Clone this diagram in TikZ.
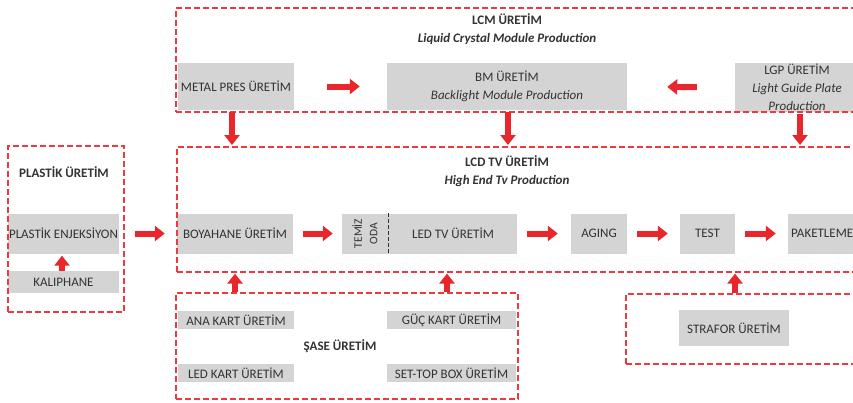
\documentclass[tikz,border=0pt]{standalone}
\usepackage{fontspec}
\setmainfont{Carlito}
\usetikzlibrary{arrows.meta}
\definecolor{arrred}{HTML}{E8262B}
\definecolor{dashred}{HTML}{EC3A3F}
\definecolor{boxgray}{HTML}{D4D4D4}
\definecolor{txtgray}{HTML}{333333}
\tikzset{
  every node/.style={font=\fontsize{13}{18}\selectfont, text=txtgray, inner sep=0pt},
  gbox/.style={fill=boxgray, minimum width=#1, align=center},
  grp/.style={draw=dashred, line width=1.6pt, dash pattern=on 6pt off 3pt, inner sep=0pt, anchor=north west},
  arr/.style={draw=arrred, line width=6pt, -{Triangle[width=15pt,length=10pt]}},
  ttl/.style={font=\fontsize{13}{18}\selectfont\bfseries, text=txtgray, align=center},
}
\begin{document}
\begin{tikzpicture}[x=1pt,y=-1pt]
\clip (0,0) rectangle (853,402);
\fill[white] (0,0) rectangle (853,402);
% gray boxes
\node[gbox=116pt, minimum height=47pt] (metal) at (236,86.5) {METAL PRES ÜRETİM};
\node[gbox=240pt, minimum height=47pt] (bm) at (507,86.5) {BM ÜRETİM\\\textit{Backlight Module Production}};
\node[gbox=124pt, minimum height=49pt] (lgp) at (797,87.5) {LGP ÜRETİM\\\textit{Light Guide Plate}\\\textit{Production}};
\node[gbox=116pt, minimum height=40pt] (boya) at (235,233.5) {BOYAHANE ÜRETİM};
\node[gbox=175pt, minimum height=40pt] (led) at (429.5,233.5) {};
\node (ledtxt) at (453,233.5) {LED TV ÜRETİM};
\node[rotate=90, align=center, font=\fontsize{11.5}{15.5}\selectfont] (temiz) at (365,233.5) {TEMİZ\\ODA};
\draw[txtgray, line width=1pt, dash pattern=on 4pt off 2pt] (led.north west -| 388,0) -- (led.south west -| 388,0);
\node[gbox=56pt, minimum height=40pt] (aging) at (599,233.5) {AGING};
\node[gbox=55pt, minimum height=40pt] (test) at (707.5,233.5) {TEST};
\node[gbox=82pt, minimum height=40pt] (paket) at (829,233.5) {};
\node[anchor=west] (pakettxt) at (791,233.5) {PAKETLEME};
\node[gbox=111pt, minimum height=40pt] (enj) at (63.5,233.5) {PLASTİK ENJEKSİYON};
\node[gbox=111pt, minimum height=22pt] (kalip) at (63.5,282) {KALIPHANE};
\node[gbox=116pt, minimum height=18pt] (ana) at (236,320) {ANA KART ÜRETİM};
\node[gbox=129pt, minimum height=18pt] (guc) at (451.5,320) {GÜÇ KART ÜRETİM};
\node[gbox=116pt, minimum height=18pt] (ledkart) at (236,373) {LED KART ÜRETİM};
\node[gbox=129pt, minimum height=18pt] (settop) at (451.5,373) {SET-TOP BOX ÜRETİM};
\node[gbox=110pt, minimum height=36pt] (strafor) at (734,328) {STRAFOR ÜRETİM};
% group boxes
\node[grp, minimum width=725pt, minimum height=104pt] (lcm) at (175,7) {};
\node[grp, minimum width=724pt, minimum height=125pt] (lcd) at (176,146) {};
\node[grp, minimum width=116pt, minimum height=166pt] (plastik) at (7,145) {};
\node[grp, minimum width=342pt, minimum height=106pt] (sase) at (175,292) {};
\node[grp, minimum width=275pt, minimum height=70pt] (strgrp) at (625,293) {};
% titles
\node[ttl] (lcmt) at (507,29) {LCM ÜRETİM\\\textit{Liquid Crystal Module Production}};
\node[ttl] (lcdt) at (507,171.5) {LCD TV ÜRETİM\\\textit{High End Tv Production}};
\node[ttl] (plt) at (64,172) {PLASTİK ÜRETİM};
\node[ttl] (saset) at (340,346) {ŞASE ÜRETİM};
% horizontal arrows
\draw[arr, shorten <=33pt, shorten >=27pt] (metal.east) -- (bm.west);
\draw[arr, shorten <=38pt, shorten >=40pt] (lgp.west) -- (bm.east);
\draw[arr, shorten <=16pt, shorten >=12pt] (enj.east) -- (boya.west);
\draw[arr, shorten <=10pt, shorten >=9pt] (boya.east) -- (led.west);
\draw[arr, shorten <=10pt, shorten >=13pt] (led.east) -- (aging.west);
\draw[arr, shorten <=10pt, shorten >=12pt] (aging.east) -- (test.west);
\draw[arr, shorten <=10pt, shorten >=12pt] (test.east) -- (paket.west);
% vertical arrows
\draw[arr, shorten <=2pt, shorten >=1pt] ([xshift=-4pt]metal.south) -- ([xshift=-4pt]metal.south |- lcd.north);
\draw[arr, shorten <=2pt, shorten >=1pt] ([xshift=1pt]bm.south) -- ([xshift=1pt]bm.south |- lcd.north);
\draw[arr, shorten <=2pt, shorten >=1pt] ([xshift=3pt]lgp.south) -- ([xshift=3pt]lgp.south |- lcd.north);
\draw[arr, shorten <=0pt, shorten >=1pt] ([xshift=-1pt]ana.north |- sase.north) -- ([xshift=-1pt]ana.north |- lcd.south);
\draw[arr, shorten <=0pt, shorten >=1pt] ([xshift=-4.5pt]guc.north |- sase.north) -- ([xshift=-4.5pt]guc.north |- lcd.south);
\draw[arr, shorten <=0pt, shorten >=1pt] ([xshift=1pt]strafor.north |- strgrp.north) -- ([xshift=1pt]strafor.north |- lcd.south);
\draw[arr, shorten <=0pt, shorten >=2pt] ([xshift=-1.5pt]kalip.north) -- ([xshift=-1.5pt]enj.south);
\end{tikzpicture}
\end{document}
